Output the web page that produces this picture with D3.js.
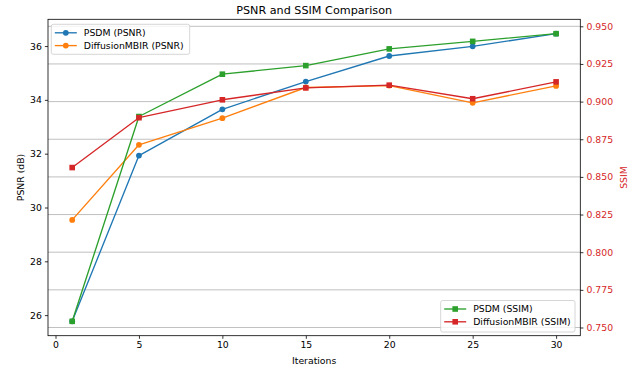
<!DOCTYPE html>
<html><head><meta charset="utf-8">
<script src="https://cdn.jsdelivr.net/npm/d3@7/dist/d3.min.js"></script>
<style>
html,body{margin:0;padding:0;background:#fff;}
svg{display:block;font-family:"DejaVu Sans",sans-serif;}
</style></head>
<body>
<svg id="chart" width="637" height="371"></svg>
<script>
const iterations = [1, 5, 10, 15, 20, 25, 30];
const psdmPsnr = [25.77, 31.93, 33.65, 34.68, 35.63, 35.99, 36.46];
const diffPsnr = [29.54, 32.33, 33.32, 34.46, 34.53, 33.89, 34.52];
const psdmSsim = [0.7541, 0.8901, 0.9182, 0.9239, 0.9350, 0.9400, 0.9451];
const diffSsim = [0.8562, 0.8893, 0.9012, 0.9091, 0.9109, 0.9019, 0.9131];
const xTicks = [0, 5, 10, 15, 20, 25, 30];
const psnrTicks = [26, 28, 30, 32, 34, 36];
const ssimTicks = [0.750, 0.775, 0.800, 0.825, 0.850, 0.875, 0.900, 0.925, 0.950];
const titleText = "PSNR and SSIM Comparison";
const xLabel = "Iterations";
const yLabelLeft = "PSNR (dB)";
const yLabelRight = "SSIM";
const seriesNames = ["PSDM (PSNR)", "DiffusionMBIR (PSNR)", "PSDM (SSIM)", "DiffusionMBIR (SSIM)"];

const colors = {blue:"#1f77b4", orange:"#ff7f0e", green:"#2ca02c", red:"#d62728"};
const W = 637, H = 371;
const m = {left:48, right:580.3, top:19.3, bottom:335.7};
const svg = d3.select("#chart");

function pad(ext){ const r = ext[1]-ext[0]; return [ext[0]-0.05*r, ext[1]+0.05*r]; }
const x = d3.scaleLinear().domain(pad(d3.extent(iterations))).range([m.left, m.right]);
const yL = d3.scaleLinear().domain(pad(d3.extent(psdmPsnr.concat(diffPsnr)))).range([m.bottom, m.top]);
const yR = d3.scaleLinear().domain(pad(d3.extent(psdmSsim.concat(diffSsim)))).range([m.bottom, m.top]);

const fs = 9.3;

// grid (from right axis)
svg.append("g").selectAll("line").data(ssimTicks).join("line")
  .attr("x1", m.left).attr("x2", m.right)
  .attr("y1", d=>yR(d)).attr("y2", d=>yR(d))
  .attr("stroke", "#b0b0b0").attr("stroke-width", 0.8);

function drawSeries(vals, yScale, color, marker){
  const pts = iterations.map((it,i)=>[x(it), yScale(vals[i])]);
  svg.append("path").attr("d", d3.line()(pts)).attr("fill","none")
    .attr("stroke", color).attr("stroke-width", 1.35).attr("stroke-linejoin","round");
  const g = svg.append("g");
  if (marker === "o") {
    g.selectAll("circle").data(pts).join("circle")
      .attr("cx", d=>d[0]).attr("cy", d=>d[1]).attr("r", 2.9).attr("fill", color);
  } else {
    const s = 5.6;
    g.selectAll("rect").data(pts).join("rect")
      .attr("x", d=>d[0]-s/2).attr("y", d=>d[1]-s/2).attr("width", s).attr("height", s).attr("fill", color);
  }
}
drawSeries(psdmPsnr, yL, colors.blue, "o");
drawSeries(diffPsnr, yL, colors.orange, "o");
drawSeries(psdmSsim, yR, colors.green, "s");
drawSeries(diffSsim, yR, colors.red, "s");

// axes
const tl = 3.1, tp = 3.1;
const xAxis = d3.axisBottom(x).tickValues(xTicks).tickSize(tl).tickPadding(tp).tickFormat(d3.format("d"));
const yAxisL = d3.axisLeft(yL).tickValues(psnrTicks).tickSize(tl).tickPadding(tp).tickFormat(d3.format("d"));
const yAxisR = d3.axisRight(yR).tickValues(ssimTicks).tickSize(tl).tickPadding(tp).tickFormat(d3.format(".3f"));

function styleAxis(g, color){
  g.select(".domain").remove();
  g.selectAll(".tick line").attr("stroke", "#000").attr("stroke-width", 0.8);
  g.selectAll(".tick text").attr("fill", color).attr("font-size", fs).attr("font-family", "DejaVu Sans");
}
svg.append("g").attr("transform", `translate(0,${m.bottom})`).call(xAxis).call(g=>styleAxis(g,"#000"));
svg.append("g").attr("transform", `translate(${m.left},0)`).call(yAxisL).call(g=>styleAxis(g,"#000"));
svg.append("g").attr("transform", `translate(${m.right},0)`).call(yAxisR).call(g=>styleAxis(g,colors.red));

// frame
svg.append("rect").attr("x", m.left).attr("y", m.top).attr("width", m.right-m.left).attr("height", m.bottom-m.top)
  .attr("fill","none").attr("stroke","#000").attr("stroke-width",0.8);

// labels
svg.append("text").attr("x", (m.left+m.right)/2).attr("y", 13.5).attr("text-anchor","middle")
  .attr("font-size", 11.2).attr("fill","#000").text(titleText);
svg.append("text").attr("x", (m.left+m.right)/2).attr("y", 363.5).attr("text-anchor","middle")
  .attr("font-size", fs).attr("fill","#000").text(xLabel);
svg.append("text").attr("transform", `translate(23.5,${(m.top+m.bottom)/2}) rotate(-90)`).attr("text-anchor","middle")
  .attr("font-size", fs).attr("fill","#000").text(yLabelLeft);
svg.append("text").attr("transform", `translate(626.5,${(m.top+m.bottom)/2}) rotate(-90)`).attr("text-anchor","middle")
  .attr("font-size", fs).attr("fill",colors.red).text(yLabelRight);

// legends
function legend(x0, y0, w, h, items){
  const g = svg.append("g");
  g.append("rect").attr("x", x0).attr("y", y0).attr("width", w).attr("height", h).attr("rx", 2)
    .attr("fill","#fff").attr("fill-opacity",0.8).attr("stroke","#cccccc").attr("stroke-width",0.8);
  items.forEach((it,i)=>{
    const yy = y0 + 8.5 + i*12.8;
    g.append("line").attr("x1", x0+3.5).attr("x2", x0+25.5).attr("y1", yy).attr("y2", yy)
      .attr("stroke", it.color).attr("stroke-width", 1.35);
    const cx = x0+14.5;
    if (it.marker === "o") g.append("circle").attr("cx", cx).attr("cy", yy).attr("r", 2.9).attr("fill", it.color);
    else g.append("rect").attr("x", cx-2.8).attr("y", yy-2.8).attr("width",5.6).attr("height",5.6).attr("fill", it.color);
    g.append("text").attr("x", x0+32.5).attr("y", yy).attr("dy","0.35em").attr("font-size", fs)
      .attr("fill","#000").text(it.name);
  });
}
legend(51.3, 24.3, 138.4, 30, [
  {name: seriesNames[0], color: colors.blue, marker:"o"},
  {name: seriesNames[1], color: colors.orange, marker:"o"}]);
legend(440.7, 300.5, 134.3, 31.5, [
  {name: seriesNames[2], color: colors.green, marker:"s"},
  {name: seriesNames[3], color: colors.red, marker:"s"}]);
</script>
</body></html>
